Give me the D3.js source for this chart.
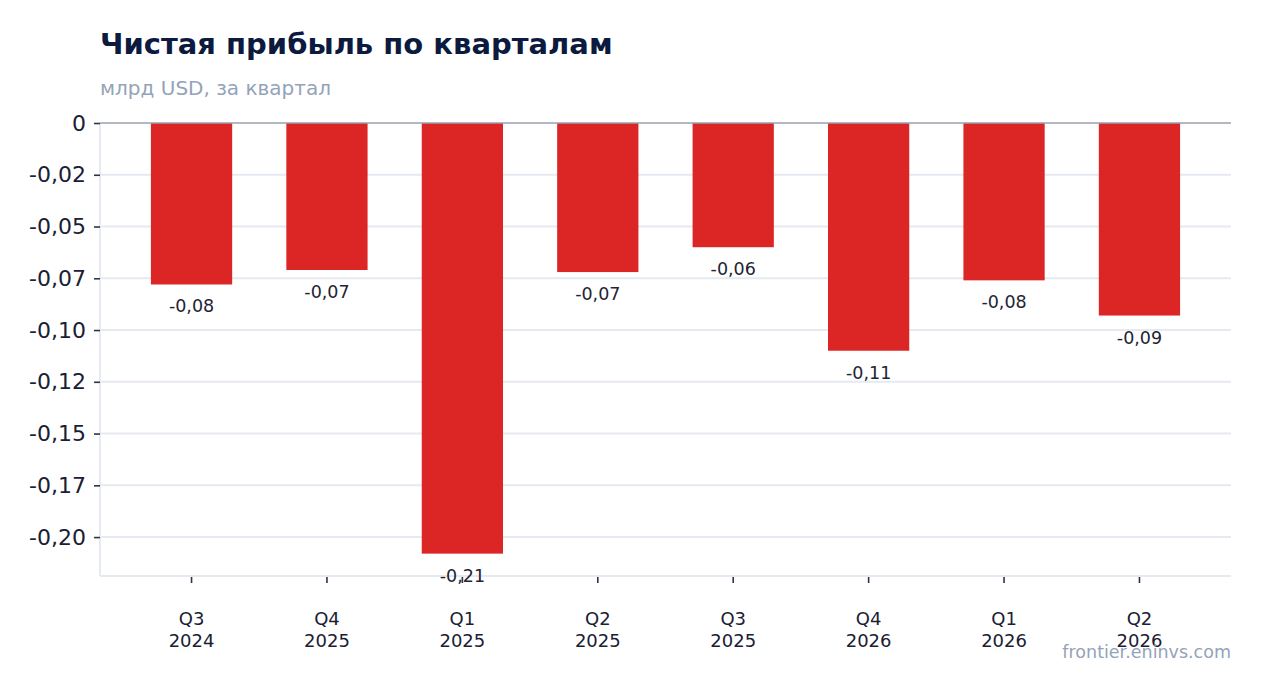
<!DOCTYPE html>
<html>
<head>
<meta charset="utf-8">
<script src="https://cdn.jsdelivr.net/npm/d3@7"></script>
<style>
  html, body { margin: 0; padding: 0; background: #fff; }
  svg { display: block; font-family: "DejaVu Sans", sans-serif; }
</style>
</head>
<body>
<svg id="chart" width="1262" height="693"></svg>
<script>
// Chart data
var quarters = ["Q3", "Q4", "Q1", "Q2", "Q3", "Q4", "Q1", "Q2"];
var years = ["2024", "2025", "2025", "2025", "2025", "2026", "2026", "2026"];
var netProfit = [-0.078, -0.071, -0.208, -0.072, -0.060, -0.110, -0.076, -0.093];
var valueLabels = ["-0,08", "-0,07", "-0,21", "-0,07", "-0,06", "-0,11", "-0,08", "-0,09"];
var yTickValues = [0, -0.025, -0.05, -0.075, -0.1, -0.125, -0.15, -0.175, -0.2];
var yTickLabels = ["0", "-0,02", "-0,05", "-0,07", "-0,10", "-0,12", "-0,15", "-0,17", "-0,20"];

var svg = d3.select("#chart");
var width = 1262, height = 693;
var margin = {top: 123, right: 31, bottom: 117, left: 100};
var innerW = width - margin.left - margin.right;
var innerH = height - margin.top - margin.bottom;

var data = quarters.map((q, i) => ({
  key: i,
  quarter: q,
  year: years[i],
  value: netProfit[i],
  label: valueLabels[i]
}));

// Title + subtitle
svg.append("text")
  .attr("x", 100).attr("y", 54)
  .attr("font-size", 29).attr("font-weight", "bold")
  .attr("fill", "#0b1a3e")
  .text("Чистая прибыль по кварталам");

svg.append("text")
  .attr("x", 100).attr("y", 95)
  .attr("font-size", 20)
  .attr("fill", "#94a3b8")
  .text("млрд USD, за квартал");

var g = svg.append("g").attr("transform", `translate(${margin.left},${margin.top})`);

// Scales
var x = d3.scaleBand()
  .domain(data.map(d => d.key))
  .range([0, innerW])
  .paddingInner(0.4)
  .paddingOuter(0.376);

var y = d3.scaleLinear()
  .domain([-0.2188, 0])
  .range([innerH, 0]);

// Gridlines
g.append("g")
  .selectAll("line")
  .data(yTickValues.filter(v => v !== 0))
  .enter()
  .append("line")
  .attr("x1", 0).attr("x2", innerW)
  .attr("y1", d => y(d)).attr("y2", d => y(d))
  .attr("stroke", "#e5e9f0")
  .attr("stroke-width", 2);

// Plot frame (left and bottom)
g.append("line")
  .attr("x1", 0).attr("x2", 0).attr("y1", 0).attr("y2", innerH)
  .attr("stroke", "#e5e9f0").attr("stroke-width", 2);
g.append("line")
  .attr("x1", 0).attr("x2", innerW).attr("y1", innerH).attr("y2", innerH)
  .attr("stroke", "#e5e9f0").attr("stroke-width", 2);

// Bars
g.selectAll("rect.bar")
  .data(data)
  .enter()
  .append("rect")
  .attr("class", "bar")
  .attr("x", d => x(d.key))
  .attr("width", x.bandwidth())
  .attr("y", y(0))
  .attr("height", d => y(d.value) - y(0))
  .attr("fill", "#dc2626");

// Zero line
g.append("line")
  .attr("x1", 0).attr("x2", innerW)
  .attr("y1", y(0)).attr("y2", y(0))
  .attr("stroke", "#9aa1ad").attr("stroke-width", 1.3);

// Value labels under bars
g.selectAll("text.val")
  .data(data)
  .enter()
  .append("text")
  .attr("class", "val")
  .attr("x", d => x(d.key) + x.bandwidth() / 2)
  .attr("y", d => y(d.value) + 28)
  .attr("text-anchor", "middle")
  .attr("font-size", 17.5)
  .attr("fill", "#1e2433")
  .text(d => d.label);

// Y axis
var yAxis = d3.axisLeft(y)
  .tickValues(yTickValues)
  .tickFormat((d, i) => yTickLabels[i])
  .tickSize(6)
  .tickPadding(8);

var yG = g.append("g").call(yAxis);
yG.select(".domain").remove();
yG.selectAll(".tick line").attr("stroke", "#2d3446").attr("stroke-width", 1.6);
yG.selectAll(".tick text")
  .attr("font-size", 22)
  .attr("font-family", "DejaVu Sans, sans-serif")
  .attr("fill", "#1a2033");

// X axis
var xAxis = d3.axisBottom(x).tickSize(6).tickFormat("");
var xG = g.append("g").attr("transform", `translate(0,${innerH + 1})`).call(xAxis);
xG.select(".domain").remove();
xG.selectAll(".tick line").attr("stroke", "#2d3446").attr("stroke-width", 1.6);

xG.selectAll(".tick")
  .append("text")
  .attr("text-anchor", "middle")
  .attr("font-size", 18)
  .attr("font-family", "DejaVu Sans, sans-serif")
  .attr("fill", "#1a2033")
  .each(function(d) {
    var t = d3.select(this);
    t.append("tspan").attr("x", 0).attr("y", 48).text(data[d].quarter);
    t.append("tspan").attr("x", 0).attr("y", 70).text(data[d].year);
  });

// Watermark
svg.append("text")
  .attr("x", 1231).attr("y", 658)
  .attr("text-anchor", "end")
  .attr("font-size", 17.5)
  .attr("fill", "#94a3b8")
  .text("frontier.eninvs.com");
</script>
</body>
</html>
